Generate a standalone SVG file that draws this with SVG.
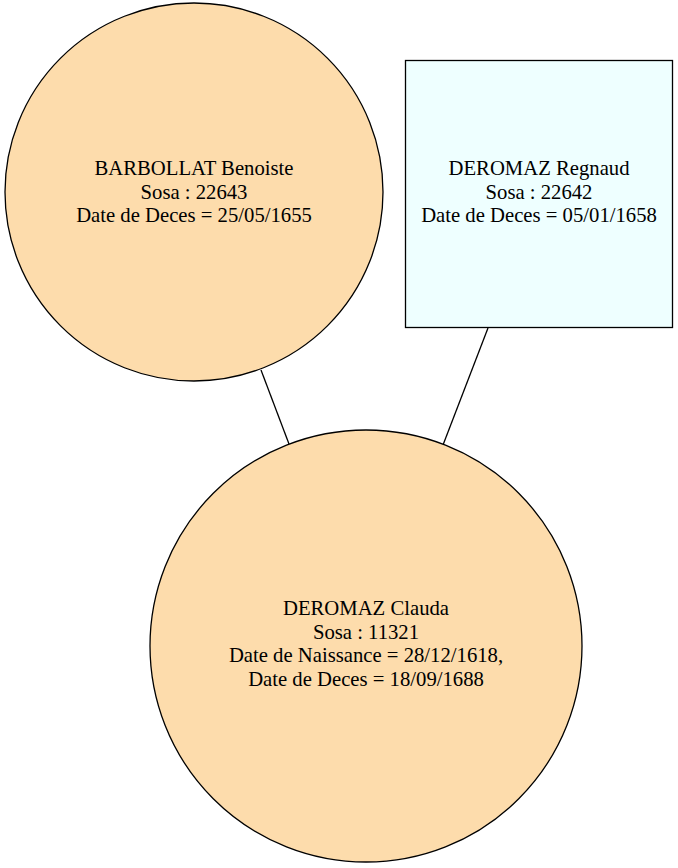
<svg xmlns="http://www.w3.org/2000/svg" width="678" height="868" viewBox="0 0 678 868">
<style>
.n{stroke:#000;stroke-width:1.3}
.c{fill:#fddcac}
.r{fill:#eeffff}
.t{font-family:'Liberation Serif','Times New Roman',Times,serif;font-size:20.7px;text-anchor:middle;fill:#000}
.e{stroke:#000;stroke-width:1.3;fill:none}
</style>
<rect width="678" height="868" fill="#fff"/>
<g id="edges">
<path class="e" d="M261,370 L289,444"/>
<path class="e" d="M488,328 L443,445"/>
</g>
<g id="node1">
<circle class="n c" cx="194" cy="192" r="189"/>
<g class="t">
<text x="194" y="175">BARBOLLAT Benoiste</text>
<text x="194" y="198.5">Sosa : 22643</text>
<text x="194" y="222">Date de Deces = 25/05/1655</text>
</g>
</g>
<g id="node2">
<rect class="n r" x="405.5" y="60.5" width="267" height="267"/>
<g class="t">
<text x="539" y="175">DEROMAZ Regnaud</text>
<text x="539" y="198.5">Sosa : 22642</text>
<text x="539" y="222">Date de Deces = 05/01/1658</text>
</g>
</g>
<g id="node3">
<circle class="n c" cx="366" cy="646" r="216"/>
<g class="t">
<text x="366" y="615">DEROMAZ Clauda</text>
<text x="366" y="638.5">Sosa : 11321</text>
<text x="366" y="662">Date de Naissance = 28/12/1618,</text>
<text x="366" y="685.5">Date de Deces = 18/09/1688</text>
</g>
</g>
</svg>
